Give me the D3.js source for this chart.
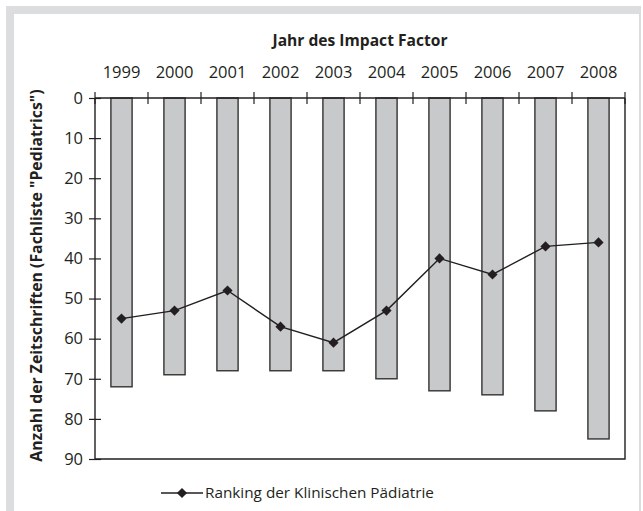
<!DOCTYPE html>
<html>
<head>
<meta charset="utf-8">
<script src="https://cdn.jsdelivr.net/npm/d3@7"></script>
<style>
  body { margin: 0; background: #fff; }
  text { font-family: "Open Sans", sans-serif; fill: #231f20; }
</style>
</head>
<body>
<script>
const years = ['1999', '2000', '2001', '2002', '2003', '2004', '2005', '2006', '2007', '2008'];
// Anzahl der Zeitschriften (bars)
const journals = [72, 69, 68, 68, 68, 70, 73, 74, 78, 85];
// Ranking der Klinischen Pädiatrie (line)
const ranking = [55, 53, 48, 57, 61, 53, 40, 44, 37, 36];
const yTicks = [0, 10, 20, 30, 40, 50, 60, 70, 80, 90];

const w = 643;
const h = 511;
const padL = 95, padR = 625, padT = 98, padB = 459;

const svg = d3.select('body').append('svg').attr('width', w).attr('height', h);

// grey frame
svg.append('rect').attr('x', 6).attr('y', 6).attr('width', 635).attr('height', h).attr('fill', '#dcdddf');
svg.append('rect').attr('x', 14).attr('y', 14).attr('width', 625).attr('height', h).attr('fill', '#fff');

const x = d3.scaleBand().domain(years).range([padL, padR]).padding(0);
const y = d3.scaleLinear().domain([0, 90]).range([padT, padB]);

// bars
const barW = x.bandwidth() * 0.4;
svg.selectAll('rect.bar').data(journals).enter().append('rect')
  .attr('class', 'bar')
  .attr('x', (d, i) => x(years[i]) + (x.bandwidth() - barW) / 2)
  .attr('y', y(0))
  .attr('width', barW)
  .attr('height', d => y(d) - y(0))
  .attr('fill', '#c8c9cb')
  .attr('stroke', '#333')
  .attr('stroke-width', 1.4);

// frame lines (left, bottom, right)
svg.append('path')
  .attr('d', 'M' + padL + ',' + padT + 'V' + padB + 'H' + padR + 'V' + padT)
  .attr('fill', 'none').attr('stroke', '#231f20').attr('stroke-width', 1.4);

// top axis: labels in the bands
const xAxis = d3.axisTop(x).tickSize(0).tickPadding(20);
const gx = svg.append('g').attr('transform', 'translate(0,' + padT + ')').call(xAxis);
gx.select('.domain').remove();
gx.selectAll('text').attr('font-size', 16.5).attr('font-family', '"Open Sans", sans-serif').attr('fill', '#231f20');

// top axis line and crossing ticks at band edges
svg.append('line').attr('x1', padL).attr('x2', padR).attr('y1', padT).attr('y2', padT)
  .attr('stroke', '#231f20').attr('stroke-width', 1.4);
const edges = years.map(d => x(d)).concat([padR]);
svg.selectAll('line.xt').data(edges).enter().append('line')
  .attr('class', 'xt')
  .attr('x1', d => d).attr('x2', d => d)
  .attr('y1', padT - 6).attr('y2', padT + 6)
  .attr('stroke', '#231f20').attr('stroke-width', 1.2);

// left axis with crossing ticks
const yAxis = d3.axisLeft(y).tickValues(yTicks).tickSize(12).tickPadding(6);
const gy = svg.append('g').attr('transform', 'translate(' + (padL + 6) + ',0)').call(yAxis);
gy.select('.domain').remove();
gy.selectAll('line').attr('stroke', '#231f20').attr('stroke-width', 1.2);
gy.selectAll('text').attr('font-size', 16.5).attr('font-family', '"Open Sans", sans-serif').attr('fill', '#231f20');

// ranking line
const cx = i => x(years[i]) + x.bandwidth() / 2;
const line = d3.line().x((d, i) => cx(i)).y(d => y(d));
svg.append('path').datum(ranking).attr('d', line)
  .attr('fill', 'none').attr('stroke', '#231f20').attr('stroke-width', 1.4);

const diamond = d3.symbol().type(d3.symbolDiamond2).size(66);
svg.selectAll('path.pt').data(ranking).enter().append('path')
  .attr('class', 'pt')
  .attr('d', diamond)
  .attr('transform', (d, i) => 'translate(' + cx(i) + ',' + y(d) + ')')
  .attr('fill', '#231f20');

// titles
svg.append('text').attr('x', (padL + padR) / 2).attr('y', 46)
  .attr('text-anchor', 'middle').attr('font-size', 15.6).attr('font-weight', 'bold')
  .text('Jahr des Impact Factor');

svg.append('text')
  .attr('transform', 'translate(42,' + ((padT + padB) / 2 - 3) + ') rotate(-90)')
  .attr('text-anchor', 'middle').attr('font-size', 15.8).attr('font-weight', 'bold')
  .text('Anzahl der Zeitschriften (Fachliste "Pediatrics")');

// legend
const lg = svg.append('g').attr('transform', 'translate(161,493)');
lg.append('line').attr('x1', 0).attr('x2', 42).attr('y1', 0).attr('y2', 0)
  .attr('stroke', '#231f20').attr('stroke-width', 1.4);
lg.append('path').attr('d', diamond).attr('transform', 'translate(21,0)').attr('fill', '#231f20');
lg.append('text').attr('x', 44).attr('y', 5).attr('font-size', 15.3)
  .text('Ranking der Klinischen Pädiatrie');
</script>
</body>
</html>
